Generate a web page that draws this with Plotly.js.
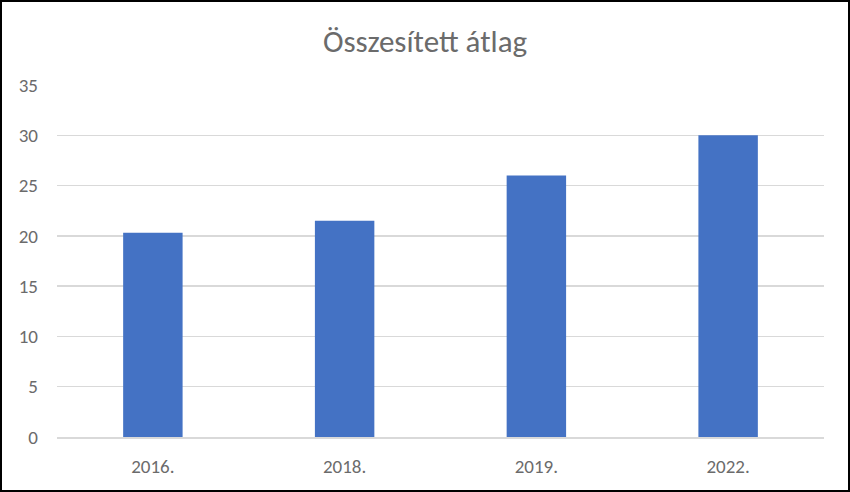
<!DOCTYPE html>
<html>
<head>
<meta charset="utf-8">
<script src="https://cdn.plot.ly/plotly-3.0.1.min.js"></script>
<style>
html,body{margin:0;padding:0;background:#fff;}
#wrap{width:850px;height:492px;box-sizing:border-box;border:2px solid #000;overflow:hidden;}
#chart{width:846px;height:488px;}
</style>
</head>
<body>
<div id="wrap"><div id="chart"></div></div>
<script>
const categories = ["2016.", "2018.", "2019.", "2022."];
const values = [20.3, 21.5, 26.0, 30.0];
const yTicks = [0, 5, 10, 15, 20, 25, 30, 35];
const chartTitle = "Összesített átlag";

const fontFam = "Carlito, Lato, 'Open Sans', sans-serif";
const data = [{
  type: "bar",
  x: categories,
  y: values,
  marker: {color: "#4472C4"},
  hoverinfo: "x+y"
}];
const layout = {
  width: 846, height: 488,
  margin: {l: 55, r: 24, t: 83, b: 53},
  paper_bgcolor: "#fff", plot_bgcolor: "#fff",
  bargap: 0.69,
  showlegend: false,
  title: {text: chartTitle, x: 0.5, xanchor: "center", y: 0.92, yanchor: "middle",
          font: {family: fontFam, size: 31, color: "#6b6b6b"}},
  xaxis: {
    type: "category",
    showgrid: false,
    showline: true, linecolor: "#D9D9D9", linewidth: 1.5,
    ticks: "",
    ticklabelstandoff: 12,
    tickfont: {family: fontFam, size: 19, color: "#6b6b6b"},
    zeroline: false
  },
  yaxis: {
    range: [0, 35],
    tickvals: yTicks,
    ticktext: yTicks.map(String),
    showgrid: true, gridcolor: "#D9D9D9", gridwidth: 1.5,
    zeroline: false,
    showline: false,
    ticks: "",
    ticklabelstandoff: 18,
    tickfont: {family: fontFam, size: 19, color: "#6b6b6b"}
  }
};
Plotly.newPlot("chart", data, layout, {displayModeBar: false, staticPlot: true});
</script>
</body>
</html>
